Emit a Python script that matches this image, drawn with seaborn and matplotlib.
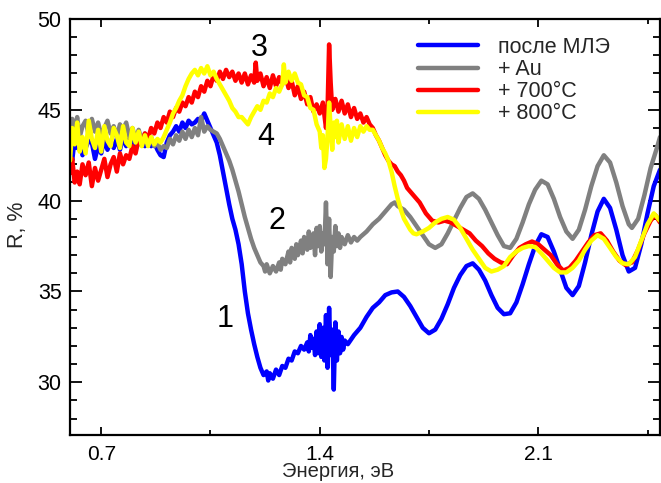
import matplotlib
matplotlib.use("Agg")
import matplotlib.pyplot as plt
import seaborn as sns
import pandas as pd
from matplotlib.ticker import MultipleLocator, FixedLocator
from matplotlib.lines import Line2D

# ---------------- data ----------------
series_labels = ["после МЛЭ", "+ Au", "+ 700°C", "+ 800°C"]
series_colors = ["#0000FF", "#808080", "#FF0000", "#FFFF00"]

E_mle = [
    0.600, 0.607, 0.615, 0.623, 0.631, 0.640, 0.650, 0.660, 0.670, 0.680,
    0.690, 0.700, 0.710, 0.720, 0.730, 0.740, 0.750, 0.760, 0.770, 0.780,
    0.790, 0.800, 0.810, 0.820, 0.830, 0.840, 0.850, 0.860, 0.870, 0.880,
    0.890, 0.900, 0.910, 0.920, 0.930, 0.940, 0.950, 0.960, 0.970, 0.980,
    0.990, 1.000, 1.010, 1.020, 1.030, 1.040, 1.050, 1.060, 1.070, 1.080,
    1.090, 1.100, 1.110, 1.120, 1.130, 1.140, 1.150, 1.160, 1.170, 1.180,
    1.190, 1.200, 1.210, 1.220, 1.230, 1.235, 1.240, 1.250, 1.260, 1.270,
    1.280, 1.290, 1.300, 1.310, 1.320, 1.330, 1.340, 1.350, 1.360, 1.365,
    1.370, 1.375, 1.380, 1.385, 1.390, 1.395, 1.400, 1.405, 1.410, 1.415,
    1.420, 1.425, 1.430, 1.435, 1.440, 1.445, 1.450, 1.455, 1.460, 1.465,
    1.470, 1.475, 1.480, 1.490, 1.510, 1.530, 1.550, 1.570, 1.590, 1.610,
    1.630, 1.650, 1.670, 1.690, 1.710, 1.730, 1.750, 1.770, 1.790, 1.810,
    1.830, 1.850, 1.870, 1.890, 1.910, 1.930, 1.950, 1.970, 1.990, 2.010,
    2.030, 2.050, 2.070, 2.090, 2.110, 2.130, 2.150, 2.170, 2.190, 2.210,
    2.230, 2.250, 2.270, 2.290, 2.310, 2.330, 2.350, 2.370, 2.390, 2.410,
    2.430, 2.450, 2.470, 2.490]
R_mle = [
    43.0, 42.2, 43.4, 42.9, 43.5, 42.5, 42.9, 43.3, 43.2, 42.3,
    43.0, 42.6, 43.4, 42.8, 43.3, 42.9, 43.4, 42.8, 43.5, 43.0,
    43.4, 42.9, 43.5, 43.1, 43.4, 43.0, 43.3, 43.0, 43.2, 42.8,
    42.5, 42.4, 43.2, 43.6, 43.8, 44.1, 43.8, 44.3, 44.0, 44.4,
    44.2, 44.3, 44.5, 44.4, 44.8, 44.4, 44.0, 43.6, 43.2, 42.5,
    41.6, 40.7, 39.8, 39.0, 38.4, 37.6, 36.5, 35.0, 33.8, 32.9,
    32.1, 31.4, 30.8, 30.4, 30.6, 30.1, 30.5, 30.2, 30.7, 30.4,
    30.9, 30.8, 31.3, 31.2, 31.7, 31.6, 32.0, 31.8, 32.2, 31.7,
    32.6, 31.9, 32.4, 31.5, 32.8, 31.6, 33.2, 31.4, 33.0, 31.2,
    33.7, 30.8, 34.1, 31.5, 32.9, 29.6, 33.3, 31.2, 32.8, 31.6,
    32.5, 31.8, 32.3, 32.1, 32.6, 33.0, 33.6, 34.1, 34.4, 34.8,
    34.95, 35.0, 34.7, 34.2, 33.6, 33.0, 32.7, 32.9, 33.5, 34.3,
    35.2, 35.9, 36.4, 36.55, 36.2, 35.6, 34.8, 34.1, 33.75, 33.8,
    34.4, 35.4, 36.5, 37.5, 38.15, 38.0, 37.2, 36.2, 35.2, 34.8,
    35.3, 36.6, 38.1, 39.4, 40.1, 39.6, 38.4, 37.0, 36.1, 36.3,
    37.6, 39.3, 40.8, 41.7]

E_au = [
    0.600, 0.607, 0.615, 0.623, 0.631, 0.640, 0.650, 0.660, 0.670, 0.680,
    0.690, 0.700, 0.710, 0.720, 0.730, 0.740, 0.750, 0.760, 0.770, 0.780,
    0.790, 0.800, 0.810, 0.820, 0.830, 0.840, 0.850, 0.860, 0.870, 0.880,
    0.890, 0.900, 0.910, 0.920, 0.930, 0.940, 0.950, 0.960, 0.970, 0.980,
    0.990, 1.000, 1.010, 1.020, 1.030, 1.040, 1.050, 1.060, 1.070, 1.080,
    1.090, 1.100, 1.110, 1.120, 1.130, 1.140, 1.150, 1.160, 1.170, 1.180,
    1.190, 1.200, 1.210, 1.220, 1.225, 1.230, 1.240, 1.250, 1.260, 1.270,
    1.275, 1.280, 1.290, 1.300, 1.305, 1.310, 1.320, 1.325, 1.330, 1.340,
    1.345, 1.350, 1.360, 1.365, 1.370, 1.380, 1.385, 1.390, 1.395, 1.400,
    1.405, 1.410, 1.415, 1.420, 1.425, 1.430, 1.435, 1.440, 1.445, 1.450,
    1.455, 1.460, 1.465, 1.470, 1.480, 1.490, 1.500, 1.510, 1.520, 1.530,
    1.550, 1.570, 1.590, 1.610, 1.630, 1.640, 1.650, 1.670, 1.690, 1.710,
    1.730, 1.750, 1.770, 1.790, 1.810, 1.830, 1.850, 1.870, 1.890, 1.910,
    1.930, 1.950, 1.970, 1.990, 2.010, 2.030, 2.050, 2.070, 2.090, 2.110,
    2.130, 2.150, 2.170, 2.190, 2.210, 2.230, 2.250, 2.270, 2.290, 2.310,
    2.330, 2.350, 2.370, 2.390, 2.400, 2.420, 2.440, 2.460, 2.480, 2.490]
R_au = [
    43.2, 44.5, 43.9, 44.6, 43.5, 44.1, 44.4, 43.6, 44.5, 43.8,
    44.3, 43.6, 44.0, 44.4, 43.7, 44.1, 43.5, 44.2, 43.9, 44.3,
    43.5, 44.0, 43.4, 43.9, 43.3, 43.7, 43.2, 43.5, 43.0, 43.2,
    42.8, 43.0, 42.9, 43.4, 43.1, 43.6, 43.3, 43.8, 43.4, 43.9,
    43.5, 44.0, 43.6, 44.6, 43.8, 44.1, 43.9, 43.8, 43.7, 43.4,
    43.0, 42.6, 42.2, 41.7, 41.1, 40.5, 39.8, 39.1, 38.5, 37.9,
    37.4, 37.0, 36.6, 36.4, 36.1, 36.5, 36.0, 36.4, 36.1, 36.6,
    36.2, 36.8, 36.5, 37.2, 36.6, 37.4, 36.8, 37.6, 37.0, 37.8,
    37.1, 38.0, 37.3, 38.3, 37.4, 38.2, 37.0, 38.5, 37.5, 38.6,
    37.2, 38.2, 37.6, 39.9, 36.5, 39.0, 35.8, 38.0, 37.2, 38.6,
    37.5, 38.2, 37.4, 38.0, 37.6, 38.1, 37.7, 38.0, 37.8, 38.0,
    38.3, 38.7, 39.0, 39.4, 39.8, 39.9, 39.7, 39.5, 39.1, 38.6,
    38.1, 37.6, 37.4, 37.6, 38.2, 38.9, 39.6, 40.2, 40.4, 40.1,
    39.5, 38.8, 38.1, 37.5, 37.4, 37.9, 38.8, 39.8, 40.6, 41.1,
    40.9, 40.1, 39.1, 38.3, 37.9, 38.4, 39.5, 40.8, 41.9, 42.5,
    42.1, 41.0, 39.7, 38.7, 38.5, 39.0, 40.3, 41.8, 42.9, 43.5]

E_700 = [
    0.600, 0.607, 0.615, 0.623, 0.631, 0.640, 0.650, 0.660, 0.670, 0.680,
    0.690, 0.700, 0.710, 0.720, 0.730, 0.740, 0.750, 0.760, 0.770, 0.780,
    0.790, 0.800, 0.810, 0.820, 0.830, 0.840, 0.850, 0.860, 0.870, 0.880,
    0.890, 0.900, 0.910, 0.920, 0.930, 0.940, 0.950, 0.960, 0.970, 0.980,
    0.990, 1.000, 1.010, 1.020, 1.030, 1.040, 1.050, 1.060, 1.070, 1.080,
    1.090, 1.100, 1.110, 1.120, 1.130, 1.140, 1.150, 1.160, 1.170, 1.180,
    1.190, 1.195, 1.200, 1.210, 1.220, 1.230, 1.240, 1.250, 1.260, 1.270,
    1.280, 1.290, 1.300, 1.310, 1.320, 1.330, 1.340, 1.350, 1.360, 1.370,
    1.380, 1.390, 1.400, 1.410, 1.420, 1.425, 1.430, 1.435, 1.440, 1.450,
    1.460, 1.470, 1.480, 1.490, 1.500, 1.510, 1.520, 1.530, 1.540, 1.550,
    1.560, 1.570, 1.580, 1.590, 1.600, 1.610, 1.620, 1.630, 1.640, 1.650,
    1.660, 1.670, 1.680, 1.690, 1.700, 1.710, 1.720, 1.730, 1.740, 1.750,
    1.760, 1.780, 1.800, 1.820, 1.840, 1.860, 1.880, 1.900, 1.920, 1.940,
    1.960, 1.980, 2.000, 2.020, 2.040, 2.060, 2.080, 2.100, 2.120, 2.140,
    2.160, 2.180, 2.200, 2.220, 2.240, 2.260, 2.280, 2.300, 2.320, 2.340,
    2.360, 2.380, 2.400, 2.420, 2.440, 2.460, 2.475, 2.490]
R_700 = [
    41.5, 42.3, 41.0, 41.6, 40.9, 42.0, 41.4, 42.1, 40.8, 41.8,
    41.1, 41.7, 42.3, 41.3, 42.0, 42.4, 41.6, 42.6, 42.0, 42.5,
    42.3, 43.0, 42.6, 43.4, 43.1, 43.7, 43.4, 44.0, 43.7, 44.3,
    44.0, 44.6, 44.3, 44.9, 44.6, 45.1, 44.9, 45.4, 45.2, 45.7,
    45.4, 46.0, 45.7, 46.3, 46.0, 46.6, 46.3, 46.9, 46.6, 47.1,
    46.7, 47.2, 46.8, 47.1, 46.6, 47.0, 46.5, 47.0, 46.4, 46.9,
    46.5, 47.6, 46.6, 47.0, 46.3, 46.8, 46.2, 46.9, 46.3, 46.8,
    46.4, 46.9, 46.2, 46.6, 45.8, 46.3, 45.6, 46.0, 45.3, 45.7,
    44.9, 45.3, 44.8, 45.4, 44.0, 45.0, 48.6, 46.5, 45.0, 45.6,
    44.9, 45.5, 44.8, 45.3, 44.6, 45.1, 44.5, 44.8, 44.3, 44.6,
    44.2, 44.0, 43.6, 43.3, 42.9, 42.5, 42.2, 42.0, 41.9, 41.6,
    41.4, 41.1, 40.7, 40.5, 40.3, 40.1, 39.9, 39.6, 39.3, 39.1,
    38.9, 38.8, 38.9, 38.8, 38.6, 38.4, 38.2, 37.8, 37.5, 37.1,
    36.8, 36.6, 36.5, 37.0, 37.4, 37.6, 37.75, 37.6, 37.3, 37.0,
    36.5, 36.15, 36.3, 36.7, 37.2, 37.7, 38.1, 38.2, 37.8, 37.2,
    36.7, 36.45, 36.6, 37.3, 38.2, 38.9, 39.2, 38.8]

E_800 = [
    0.600, 0.607, 0.615, 0.623, 0.631, 0.640, 0.650, 0.660, 0.670, 0.680,
    0.690, 0.700, 0.710, 0.720, 0.730, 0.740, 0.750, 0.760, 0.770, 0.780,
    0.790, 0.800, 0.810, 0.820, 0.830, 0.840, 0.850, 0.860, 0.870, 0.880,
    0.890, 0.900, 0.910, 0.920, 0.930, 0.940, 0.950, 0.960, 0.970, 0.980,
    0.990, 1.000, 1.010, 1.020, 1.030, 1.040, 1.050, 1.060, 1.070, 1.080,
    1.090, 1.100, 1.110, 1.120, 1.130, 1.140, 1.150, 1.160, 1.170, 1.180,
    1.190, 1.200, 1.210, 1.220, 1.230, 1.240, 1.250, 1.260, 1.270, 1.280,
    1.285, 1.290, 1.300, 1.310, 1.320, 1.330, 1.340, 1.350, 1.360, 1.370,
    1.380, 1.390, 1.400, 1.405, 1.410, 1.415, 1.420, 1.425, 1.430, 1.435,
    1.440, 1.445, 1.450, 1.455, 1.460, 1.470, 1.480, 1.490, 1.500, 1.510,
    1.520, 1.530, 1.540, 1.550, 1.560, 1.570, 1.580, 1.590, 1.600, 1.610,
    1.620, 1.630, 1.640, 1.650, 1.660, 1.670, 1.680, 1.690, 1.700, 1.710,
    1.730, 1.750, 1.770, 1.790, 1.810, 1.830, 1.850, 1.870, 1.890, 1.910,
    1.930, 1.950, 1.970, 1.990, 2.010, 2.030, 2.050, 2.070, 2.090, 2.110,
    2.130, 2.150, 2.170, 2.190, 2.210, 2.230, 2.250, 2.270, 2.290, 2.310,
    2.330, 2.350, 2.370, 2.390, 2.410, 2.430, 2.450, 2.470, 2.490]
R_800 = [
    42.2, 44.0, 43.1, 44.3, 42.7, 43.5, 42.6, 44.4, 43.4, 42.9,
    43.9, 42.7, 44.1, 43.3, 43.0, 44.0, 43.6, 42.9, 44.1, 43.2,
    43.0, 44.0, 43.2, 43.8, 43.0, 43.6, 43.0, 43.5, 43.1, 43.4,
    43.2, 43.5, 43.9, 44.3, 44.8, 45.1, 45.5, 45.8, 46.3, 46.7,
    47.0, 47.2, 46.9, 47.3, 47.0, 47.4, 46.9, 47.1, 46.7, 46.4,
    46.1, 45.8, 45.5, 45.1, 44.9, 44.6, 44.6, 44.4, 44.2, 44.6,
    44.9, 45.2, 45.0, 45.5, 45.4, 45.9, 45.7, 46.2, 46.0, 46.4,
    47.5, 46.5, 47.1, 46.6, 47.0, 46.5, 46.4, 45.8, 45.7, 45.1,
    45.0, 44.2, 43.8, 42.9, 43.6, 41.8, 42.3, 43.5, 45.4, 44.0,
    42.8, 44.3, 43.5, 44.4, 43.2, 44.2, 43.4, 44.1, 43.3, 44.0,
    43.5, 44.1, 43.8, 44.1, 43.9, 43.9, 43.6, 43.3, 42.9, 42.6,
    42.2, 41.6, 40.8, 40.1, 39.5, 39.0, 38.7, 38.4, 38.2, 38.15,
    38.3, 38.5, 38.8, 39.0, 39.1, 38.95, 38.5, 37.9, 37.3, 36.8,
    36.3, 36.1, 36.2, 36.4, 36.9, 37.2, 37.4, 37.5, 37.45, 37.1,
    36.7, 36.3, 36.05, 36.05, 36.3, 36.7, 37.3, 37.8, 38.1, 37.9,
    37.4, 36.9, 36.55, 36.5, 36.9, 37.8, 38.7, 39.3, 38.9]

x_ticks = [0.7, 1.4, 2.1]
x_minor_ticks = [1.05, 1.75, 2.45]
curve_numbers = ["1", "2", "3", "4"]
number_E = [1.097, 1.264, 1.206, 1.226]
number_R = [33.5, 38.9, 48.4, 43.5]

# ---------------- plot ----------------
sns.set_theme(style="ticks")
plt.rcParams['font.family'] = ['Liberation Sans', 'DejaVu Sans']

frames = []
for lab, E, R in zip(series_labels, [E_mle, E_au, E_700, E_800],
                     [R_mle, R_au, R_700, R_800]):
    frames.append(pd.DataFrame({"E": E, "R": R, "series": lab}))
df = pd.concat(frames, ignore_index=True)

fig = plt.figure(figsize=(6.61, 4.83), dpi=100)
ax = fig.add_axes([70 / 661, 1 - 435 / 483, 590 / 661, 416 / 483])

sns.lineplot(data=df, x="E", y="R", hue="series", hue_order=series_labels,
             palette=dict(zip(series_labels, series_colors)),
             estimator=None, sort=False, linewidth=3.2, legend=False, ax=ax)

ax.set_xlim(0.6, 2.49)
ax.set_ylim(27.1, 50)
ax.xaxis.set_major_locator(FixedLocator(x_ticks))
ax.xaxis.set_minor_locator(FixedLocator(x_minor_ticks))
ax.yaxis.set_major_locator(MultipleLocator(5))
ax.yaxis.set_minor_locator(MultipleLocator(1))
ax.tick_params(which='both', direction='in', top=True, right=True,
               width=1.3, color='black', labelcolor='black')
ax.tick_params(axis='y', which='major', length=8.5, labelsize=15.5, pad=6)
ax.tick_params(axis='y', which='minor', length=5)
ax.tick_params(axis='x', which='major', length=6, labelsize=15, pad=7)
ax.tick_params(axis='x', which='minor', length=3.5)
for sp in ax.spines.values():
    sp.set_linewidth(1.6)
    sp.set_color('black')

ax.set_xlabel("Энергия, эВ", fontsize=14.5)
ax.set_ylabel("R, %", fontsize=15.5)
ax.xaxis.set_label_coords(0.454, -0.066)
ax.yaxis.set_label_coords(-0.071, 0.505)

for t, xe, yr in zip(curve_numbers, number_E, number_R):
    ax.text(xe, yr, t, fontsize=22, ha='center', va='center', color='black')

handles = [Line2D([0], [0], color=c, lw=3.2) for c in series_colors]
ax.legend(handles, series_labels, loc='upper left',
          bbox_to_anchor=((418 - 70) / 590, 1 - (37 - 19) / 416),
          frameon=False, borderpad=0, borderaxespad=0,
          handlelength=2.8, handletextpad=0.9, labelspacing=0.05,
          fontsize=15.5)

fig.savefig("out.png", dpi=100)
